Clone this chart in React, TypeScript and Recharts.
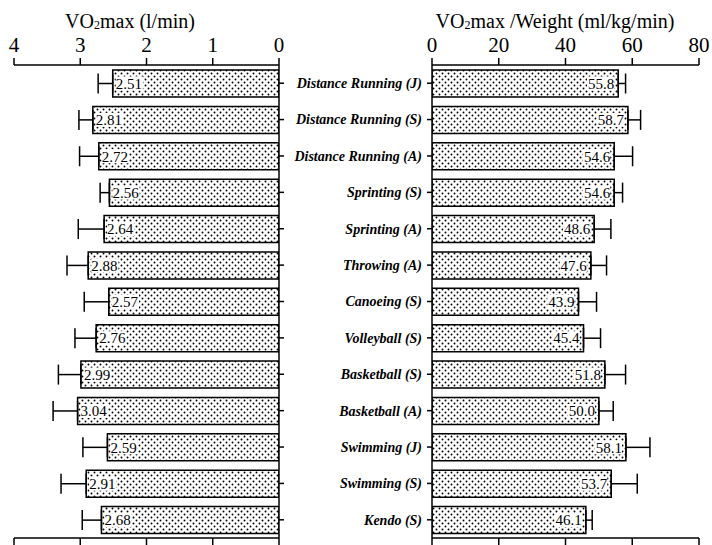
import React from 'react';
import { BarChart, Bar, XAxis, YAxis, ErrorBar, LabelList } from 'recharts';

const categories = [
  'Distance Running (J)',
  'Distance Running (S)',
  'Distance Running (A)',
  'Sprinting (S)',
  'Sprinting (A)',
  'Throwing (A)',
  'Canoeing (S)',
  'Volleyball (S)',
  'Basketball (S)',
  'Basketball (A)',
  'Swimming (J)',
  'Swimming (S)',
  'Kendo (S)',
];
const vo2max = [2.51, 2.81, 2.72, 2.56, 2.64, 2.88, 2.57, 2.76, 2.99, 3.04, 2.59, 2.91, 2.68];
const vo2maxSd = [0.22, 0.21, 0.29, 0.14, 0.39, 0.32, 0.37, 0.32, 0.34, 0.37, 0.37, 0.38, 0.29];
const vo2maxPerKg = [55.8, 58.7, 54.6, 54.6, 48.6, 47.6, 43.9, 45.4, 51.8, 50.0, 58.1, 53.7, 46.1];
const vo2maxPerKgSd = [2.2, 3.8, 5.5, 2.5, 5.0, 4.7, 5.4, 5.1, 6.2, 4.3, 7.2, 7.8, 1.9];
const leftTicks = [0, 1, 2, 3, 4];
const rightTicks = [0, 20, 40, 60, 80];

const data = categories.map((cat, i) => ({
  cat,
  abs: vo2max[i],
  absErr: [0, vo2maxSd[i]],
  rel: vo2maxPerKg[i],
  relErr: [0, vo2maxPerKgSd[i]],
}));

const SERIF = '"Liberation Serif", "Times New Roman", serif';
const axisStroke = { stroke: '#000', strokeWidth: 1.5 };

const LeftLabel = (props: any) => {
  const { x, y, width, height, value } = props;
  const left = Math.min(Number(x), Number(x) + Number(width));
  const cy = Number(y) + Number(height) / 2;
  const txt = Number(value).toFixed(2);
  const tw = txt.length * 6.8;
  return (
    <g>
      <rect x={left + 3} y={cy - 7} width={tw} height={14} fill="#fff" />
      <text x={left + 3} y={cy} dy="0.35em" fontSize={15} fontFamily={SERIF} fill="#000">
        {txt}
      </text>
    </g>
  );
};

const RightLabel = (props: any) => {
  const { x, y, width, height, value } = props;
  const right = Math.max(Number(x), Number(x) + Number(width));
  const cy = Number(y) + Number(height) / 2;
  const txt = Number(value).toFixed(1);
  const tw = txt.length * 6.8;
  return (
    <g>
      <rect x={right - 4 - tw} y={cy - 7} width={tw} height={14} fill="#fff" />
      <text x={right - 4} y={cy} dy="0.35em" textAnchor="end" fontSize={15} fontFamily={SERIF} fill="#000">
        {txt}
      </text>
    </g>
  );
};

const CatTick = (props: any) => {
  const { x, y, payload } = props;
  return (
    <text
      x={x}
      y={y}
      dy="0.35em"
      textAnchor="end"
      fontSize={14}
      fontWeight="bold"
      fontStyle="italic"
      fontFamily={SERIF}
      fill="#000"
    >
      {payload.value}
    </text>
  );
};

export default function App() {
  return (
    <div style={{ position: 'absolute', left: 0, top: 0, width: 712, height: 545, background: '#fff' }}>
      <svg width={0} height={0} style={{ position: 'absolute' }}>
        <defs>
          <pattern id="dots" width={6} height={6} patternUnits="userSpaceOnUse">
            <rect width={6} height={6} fill="#fff" />
            <circle cx={1.5} cy={1.5} r={0.95} fill="#000" />
            <circle cx={4.5} cy={4.5} r={0.95} fill="#000" />
          </pattern>
        </defs>
      </svg>
      <div style={{ position: 'absolute', left: 0, top: 0 }}>
        <BarChart
          width={285}
          height={545}
          data={data}
          layout="vertical"
          margin={{ top: 0, right: 0, bottom: 0, left: 14 }}
        >
          <XAxis
            xAxisId="top"
            orientation="top"
            type="number"
            domain={[0, 4]}
            ticks={leftTicks}
            interval={0}
            reversed
            allowDataOverflow
            height={65}
            tickSize={7}
            tickMargin={6}
            tick={{ fill: '#000', fontSize: 21, fontFamily: SERIF }}
            axisLine={axisStroke}
            tickLine={axisStroke}
          />
          <XAxis
            xAxisId="bottom"
            orientation="bottom"
            type="number"
            domain={[0, 4]}
            ticks={leftTicks}
            interval={0}
            reversed
            allowDataOverflow
            height={7}
            tickSize={7}
            tickFormatter={() => ''}
            axisLine={axisStroke}
            tickLine={axisStroke}
          />
          <YAxis
            type="category"
            dataKey="cat"
            orientation="right"
            width={6}
            tickSize={5}
            tickFormatter={() => ''}
            axisLine={axisStroke}
            tickLine={axisStroke}
          />
          <Bar
            xAxisId="top"
            dataKey="abs"
            barSize={27}
            fill="url(#dots)"
            stroke="#000"
            strokeWidth={1.5}
            isAnimationActive={false}
          >
            <ErrorBar dataKey="absErr" direction="x" width={10} stroke="#000" strokeWidth={1.5} />
            <LabelList dataKey="abs" content={LeftLabel} />
          </Bar>
        </BarChart>
      </div>
      <div style={{ position: 'absolute', left: 285, top: 0 }}>
        <BarChart
          width={427}
          height={545}
          data={data}
          layout="vertical"
          margin={{ top: 0, right: 13, bottom: 0, left: 0 }}
        >
          <XAxis
            xAxisId="top"
            orientation="top"
            type="number"
            domain={[0, 80]}
            ticks={rightTicks}
            interval={0}
            allowDataOverflow
            height={65}
            tickSize={7}
            tickMargin={6}
            tick={{ fill: '#000', fontSize: 21, fontFamily: SERIF }}
            axisLine={axisStroke}
            tickLine={axisStroke}
          />
          <XAxis
            xAxisId="bottom"
            orientation="bottom"
            type="number"
            domain={[0, 80]}
            ticks={rightTicks}
            interval={0}
            allowDataOverflow
            height={7}
            tickSize={7}
            tickFormatter={() => ''}
            axisLine={axisStroke}
            tickLine={axisStroke}
          />
          <YAxis
            type="category"
            dataKey="cat"
            width={147}
            tickSize={5}
            tickMargin={5}
            interval={0}
            tick={<CatTick />}
            axisLine={axisStroke}
            tickLine={axisStroke}
          />
          <Bar
            xAxisId="top"
            dataKey="rel"
            barSize={27}
            fill="url(#dots)"
            stroke="#000"
            strokeWidth={1.5}
            isAnimationActive={false}
          >
            <ErrorBar dataKey="relErr" direction="x" width={10} stroke="#000" strokeWidth={1.5} />
            <LabelList dataKey="rel" content={RightLabel} />
          </Bar>
        </BarChart>
      </div>
      <svg width={712} height={545} style={{ position: 'absolute', left: 0, top: 0, pointerEvents: 'none' }}>
        <text x={130} y={28} textAnchor="middle" fontSize={20} fontFamily={SERIF} fill="#000">
          <tspan>VO</tspan>
          <tspan fontSize={12} dy={1}>2</tspan>
          <tspan dy={-1}>max (l/min)</tspan>
        </text>
        <text x={555} y={28} textAnchor="middle" fontSize={20} fontFamily={SERIF} fill="#000">
          <tspan>VO</tspan>
          <tspan fontSize={12} dy={1}>2</tspan>
          <tspan dy={-1}>max /Weight (ml/kg/min)</tspan>
        </text>
      </svg>
    </div>
  );
}
